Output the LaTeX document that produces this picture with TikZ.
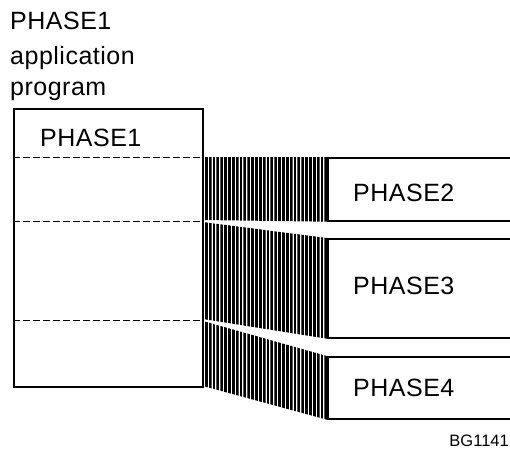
\documentclass[tikz,border=0pt]{standalone}
\usepackage{fontspec}
\setmainfont{Liberation Sans}
\newfontfamily\labfont[LetterSpace=2]{Liberation Sans}
\usetikzlibrary{patterns.meta}

\tikzset{
  boxframe/.style={draw, line width=1.7pt, inner sep=0pt, anchor=north west},
  divider/.style={line width=0.9pt, dash pattern=on 7pt off 3pt},
  band/.style={pattern={Lines[angle=90, distance=1.35pt, line width=0.95pt]}, pattern color=black},
  biglabel/.style={inner sep=0pt, anchor=base west, font=\labfont\fontsize{25}{30}\selectfont},
  codelabel/.style={inner sep=0pt, anchor=base east, font=\fontsize{16.5}{19}\selectfont},
}

\begin{document}
\begin{tikzpicture}[x=1pt, y=-1pt]
  \useasboundingbox (0,0) rectangle (510,448);
  \clip (0,0) rectangle (510,448);

  % program storage box and the overlay target boxes
  \node[boxframe, minimum width=189pt, minimum height=278pt] (main) at (13,108) {};
  \node[boxframe, minimum width=200pt, minimum height=63pt] (p2) at (327,157) {};
  \node[boxframe, minimum width=200pt, minimum height=99pt] (p3) at (327,238) {};
  \node[boxframe, minimum width=200pt, minimum height=62pt] (p4) at (327,356) {};

  % divisions inside the program box
  \coordinate (d1l) at (13,157);  \coordinate (d1r) at (202,157);
  \coordinate (d2l) at (13,221);  \coordinate (d2r) at (202,221);
  \coordinate (d3l) at (13,320);  \coordinate (d3r) at (202,320);
  \draw[divider] (d1l) -- (d1r);
  \draw[divider] (d2l) -- (d2r);
  \draw[divider] (d3l) -- (d3r);

  % hatched bands from each area to its phase box
  \coordinate (b1a) at (203,157);  \coordinate (b1b) at (203,220);
  \coordinate (b2a) at (203,222);  \coordinate (b2b) at (203,319);
  \coordinate (b3a) at (203,321);  \coordinate (b3b) at (203,386);
  \fill[band] (b1a) -- (p2.north west) -- (p2.south west) -- (b1b) -- cycle;
  \fill[band] (b2a) -- (p3.north west) -- (p3.south west) -- (b2b) -- cycle;
  \fill[band] (b3a) -- (p4.north west) -- (p4.south west) -- (b3b) -- cycle;

  % labels
  \node[biglabel] (t1) at (10,29) {PHASE1};
  \node[biglabel] (t2) at (10,64) {application};
  \node[biglabel] (t3) at (10,95) {program};
  \node[biglabel] (l1) at (40,146) {PHASE1};
  \node[biglabel] (l2) at (353,201) {PHASE2};
  \node[biglabel] (l3) at (353,294) {PHASE3};
  \node[biglabel] (l4) at (353,396) {PHASE4};
  \node[codelabel] (code) at (509,446) {BG1141};
\end{tikzpicture}
\end{document}
